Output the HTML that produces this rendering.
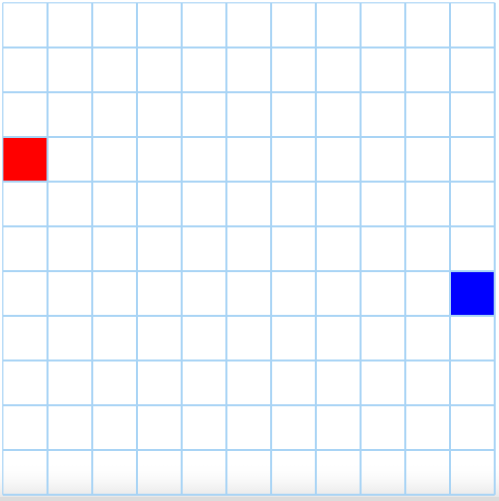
<!DOCTYPE html>
<html><head><meta charset="utf-8"><style>
html,body{margin:0;padding:0;background:#fff;width:499px;height:501px;overflow:hidden}
svg{display:block}
</style></head><body>
<svg id="grid" width="499" height="501" viewBox="0 0 499 501" xmlns="http://www.w3.org/2000/svg">
<defs><linearGradient id="fade" x1="0" y1="0" x2="0" y2="1">
<stop offset="0" stop-color="#ffffff" stop-opacity="0"/><stop offset="1" stop-color="#e2e2e2"/></linearGradient></defs>
<rect x="0" y="0" width="499" height="501" fill="#fff"/>
<rect x="0" y="462" width="499" height="39" fill="url(#fade)"/>
<rect x="0" y="497" width="499" height="4" fill="#dcdcdc"/>
<g id="cells"></g><g id="lines"></g>
</svg>
<script>
const gridCount = 11;
const markCols = [0, 10];
const markRows = [3, 6];
const markColors = ['#ff0000', '#0000ff'];
const origin = 2.8, pitch = 44.72;
const pos = i => origin + i * pitch;
const NS = 'http://www.w3.org/2000/svg';
const cells = document.getElementById('cells');
for (let k = 0; k < markCols.length; k++) {
  const r = document.createElementNS(NS, 'rect');
  
  
  r.setAttribute('x', pos(markCols[k]));
  r.setAttribute('y', pos(markRows[k]));
  r.setAttribute('width', pitch);
  r.setAttribute('height', pitch);
  r.setAttribute('fill', markColors[k]);
  cells.appendChild(r);
}
const lines = document.getElementById('lines');
for (let i = 0; i <= gridCount; i++) {
  const w = (i === 0) ? 1.2 : 2;
  const v = document.createElementNS(NS, 'line');
  
  
  v.setAttribute('x1', pos(i)); v.setAttribute('x2', pos(i));
  v.setAttribute('y1', origin); v.setAttribute('y2', pos(gridCount));
  v.setAttribute('stroke', '#a9d4f5'); v.setAttribute('stroke-width', w);
  lines.appendChild(v);
  const h = document.createElementNS(NS, 'line');
  
  
  h.setAttribute('y1', pos(i)); h.setAttribute('y2', pos(i));
  h.setAttribute('x1', origin); h.setAttribute('x2', pos(gridCount));
  h.setAttribute('stroke', '#a9d4f5'); h.setAttribute('stroke-width', w);
  lines.appendChild(h);
}
</script>
</body></html>
